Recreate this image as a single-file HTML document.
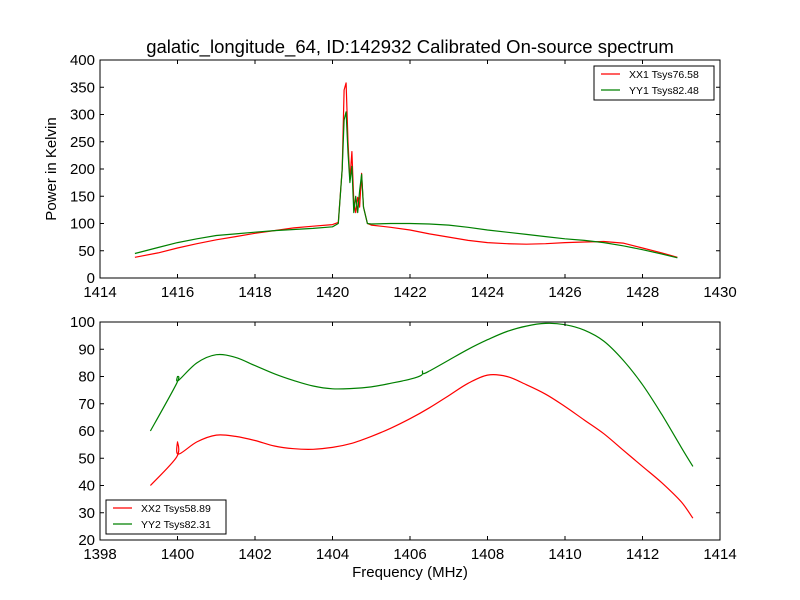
<!DOCTYPE html>
<html><head><meta charset="utf-8"><style>
body{margin:0;background:#fff;}
svg{display:block;font-family:"Liberation Sans","DejaVu Sans",sans-serif;}
</style></head><body>
<svg id="c" width="800" height="600" xmlns="http://www.w3.org/2000/svg"></svg>
<script>
const xx1Freq=[1414.9,1415.5,1416,1416.5,1417,1417.5,1418,1418.5,1419,1419.5,1420,1420.15,1420.25,1420.3,1420.35,1420.4,1420.45,1420.5,1420.55,1420.6,1420.65,1420.7,1420.75,1420.8,1420.9,1421,1421.5,1422,1422.5,1423,1423.5,1424,1424.5,1425,1425.5,1426,1426.5,1427,1427.5,1428,1428.5,1428.9];
const xx1Vals=[38,46,55,63,70,76,82,87,92,95,98,102,200,345,358,250,180,232,140,120,148,130,192,130,100,97,93,88,81,75,69,65,63,62,63,65,66,67,64,55,46,38];
const yy1Freq=[1414.9,1415.5,1416,1416.5,1417,1417.5,1418,1418.5,1419,1419.5,1420,1420.15,1420.25,1420.3,1420.35,1420.4,1420.45,1420.5,1420.55,1420.6,1420.65,1420.7,1420.75,1420.8,1420.9,1421,1421.5,1422,1422.5,1423,1423.5,1424,1424.5,1425,1425.5,1426,1426.5,1427,1427.5,1428,1428.5,1428.9];
const yy1Vals=[45,56,65,72,78,81,84,87,89,91,94,100,200,290,305,230,175,205,120,150,120,160,190,130,100,99,100,100,99,97,93,88,84,80,76,72,69,65,59,52,44,37];
const xx2Freq=[1399.3,1399.98,1400,1400.02,1400.5,1401,1401.5,1402,1402.5,1403,1403.5,1404,1404.5,1405,1405.5,1406,1406.5,1407,1407.5,1408,1408.5,1409,1409.5,1410,1410.5,1411,1411.5,1412,1412.5,1413,1413.3];
const xx2Vals=[40,50.5,56,51.5,56,58.5,58,56.5,54.5,53.5,53.3,54,55.5,58,61,64.5,68.5,73,77.5,80.5,80,77,73.5,69,64,59,53,47,41,34,28];
const yy2Freq=[1399.3,1399.98,1400,1400.02,1400.5,1401,1401.5,1402,1402.5,1403,1403.5,1404,1404.5,1405,1405.5,1406,1406.3,1406.32,1406.34,1406.5,1407,1407.5,1408,1408.5,1409,1409.5,1410,1410.5,1411,1411.5,1412,1412.5,1413,1413.3];
const yy2Vals=[60,77.5,80,78.5,85,88,87,84,81,78.5,76.5,75.5,75.6,76.2,77.5,79,80.5,82,81,82,86,90,93.5,96.5,98.5,99.5,99,97,93,86,77,66,54,47];
const topXTicks=[1414,1416,1418,1420,1422,1424,1426,1428,1430];
const topYTicks=[0,50,100,150,200,250,300,350,400];
const botXTicks=[1398,1400,1402,1404,1406,1408,1410,1412,1414];
const botYTicks=[20,30,40,50,60,70,80,90,100];

const svg=document.getElementById('c');
const NS='http://www.w3.org/2000/svg';
function mk(tag,attrs,parent){const e=document.createElementNS(NS,tag);for(const k in attrs)e.setAttribute(k,attrs[k]);(parent||svg).appendChild(e);return e;}
function scale(d0,d1,r0,r1){return v=>r0+(v-d0)/(d1-d0)*(r1-r0);}
function smoothPath(P){
  let d='M'+P[0][0].toFixed(1)+','+P[0][1].toFixed(1);
  for(let i=0;i<P.length-1;i++){
    const p0=P[Math.max(0,i-1)],p1=P[i],p2=P[i+1],p3=P[Math.min(P.length-1,i+2)];
    const c1=[p1[0]+(p2[0]-p0[0])/6,p1[1]+(p2[1]-p0[1])/6];
    const c2=[p2[0]-(p3[0]-p1[0])/6,p2[1]-(p3[1]-p1[1])/6];
    d+=' C'+c1[0].toFixed(1)+','+c1[1].toFixed(1)+' '+c2[0].toFixed(1)+','+c2[1].toFixed(1)+' '+p2[0].toFixed(1)+','+p2[1].toFixed(1);
  }
  return d;
}

function panel(name,L,T,R,B,xd,yd,xt,yt,series,legend,smooth){
  const x=scale(xd[0],xd[1],L,R), y=scale(yd[0],yd[1],B,T);
  const g=mk('g',{});
  
  
  series.forEach(s=>{
    const P=s.f.map((f,i)=>[x(f),y(s.v[i])]);
    let p;
    if(smooth){p=mk('path',{d:smoothPath(P),fill:'none',stroke:s.c,'stroke-width':1.2},g);}
    else{p=mk('polyline',{points:P.map(q=>q[0].toFixed(1)+','+q[1].toFixed(1)).join(' '),fill:'none',stroke:s.c,'stroke-width':1.2,'stroke-linejoin':'round'},g);}
    
    
  });
  const fr=mk('rect',{x:L,y:T,width:R-L,height:B-T,fill:'none',stroke:'#000','stroke-width':1},g);
  
  
  xt.forEach(v=>{const px=x(v);
    mk('line',{x1:px,y1:B,x2:px,y2:B-4,stroke:'#000'},g);mk('line',{x1:px,y1:T,x2:px,y2:T+4,stroke:'#000'},g);
    const t=mk('text',{x:px,y:B+19,'text-anchor':'middle','font-size':15},g);t.textContent=v;
    
    });
  yt.forEach(v=>{const py=y(v);
    mk('line',{x1:L,y1:py,x2:L+4,y2:py,stroke:'#000'},g);mk('line',{x1:R,y1:py,x2:R-4,y2:py,stroke:'#000'},g);
    const t=mk('text',{x:L-5,y:py+5,'text-anchor':'end','font-size':15},g);t.textContent=v;
    
    });
  const lg=mk('g',{},g);
  
  
  mk('rect',{x:legend.x,y:legend.y,width:120,height:34,fill:'#fff',stroke:'#000'},lg);
  series.forEach((s,i)=>{const ly=legend.y+8+i*16;
    mk('line',{x1:legend.x+7,y1:ly,x2:legend.x+26,y2:ly,stroke:s.c,'stroke-width':1.2},lg);
    const t=mk('text',{x:legend.x+35,y:ly+4,'font-size':10.5},lg);t.textContent=s.label;
    
    });
}
panel('top-panel',100,60,720,278,[1414,1430],[0,400],topXTicks,topYTicks,
  [{f:xx1Freq,v:xx1Vals,c:'#ff0000',label:'XX1 Tsys76.58',name:'xx1-line'},{f:yy1Freq,v:yy1Vals,c:'#008000',label:'YY1 Tsys82.48',name:'yy1-line'}],{x:594,y:66},false);
panel('bottom-panel',100,322,720,540,[1398,1414],[20,100],botXTicks,botYTicks,
  [{f:xx2Freq,v:xx2Vals,c:'#ff0000',label:'XX2 Tsys58.89',name:'xx2-line'},{f:yy2Freq,v:yy2Vals,c:'#008000',label:'YY2 Tsys82.31',name:'yy2-line'}],{x:106,y:500},true);

let t=mk('text',{x:410,y:53,'text-anchor':'middle','font-size':18.5});t.textContent='galatic_longitude_64, ID:142932 Calibrated On-source spectrum';


t=mk('text',{x:0,y:0,'text-anchor':'middle','font-size':15,transform:'translate(56,169) rotate(-90)'});t.textContent='Power in Kelvin';


t=mk('text',{x:410,y:577,'text-anchor':'middle','font-size':15});t.textContent='Frequency (MHz)';


</script>
</body></html>
